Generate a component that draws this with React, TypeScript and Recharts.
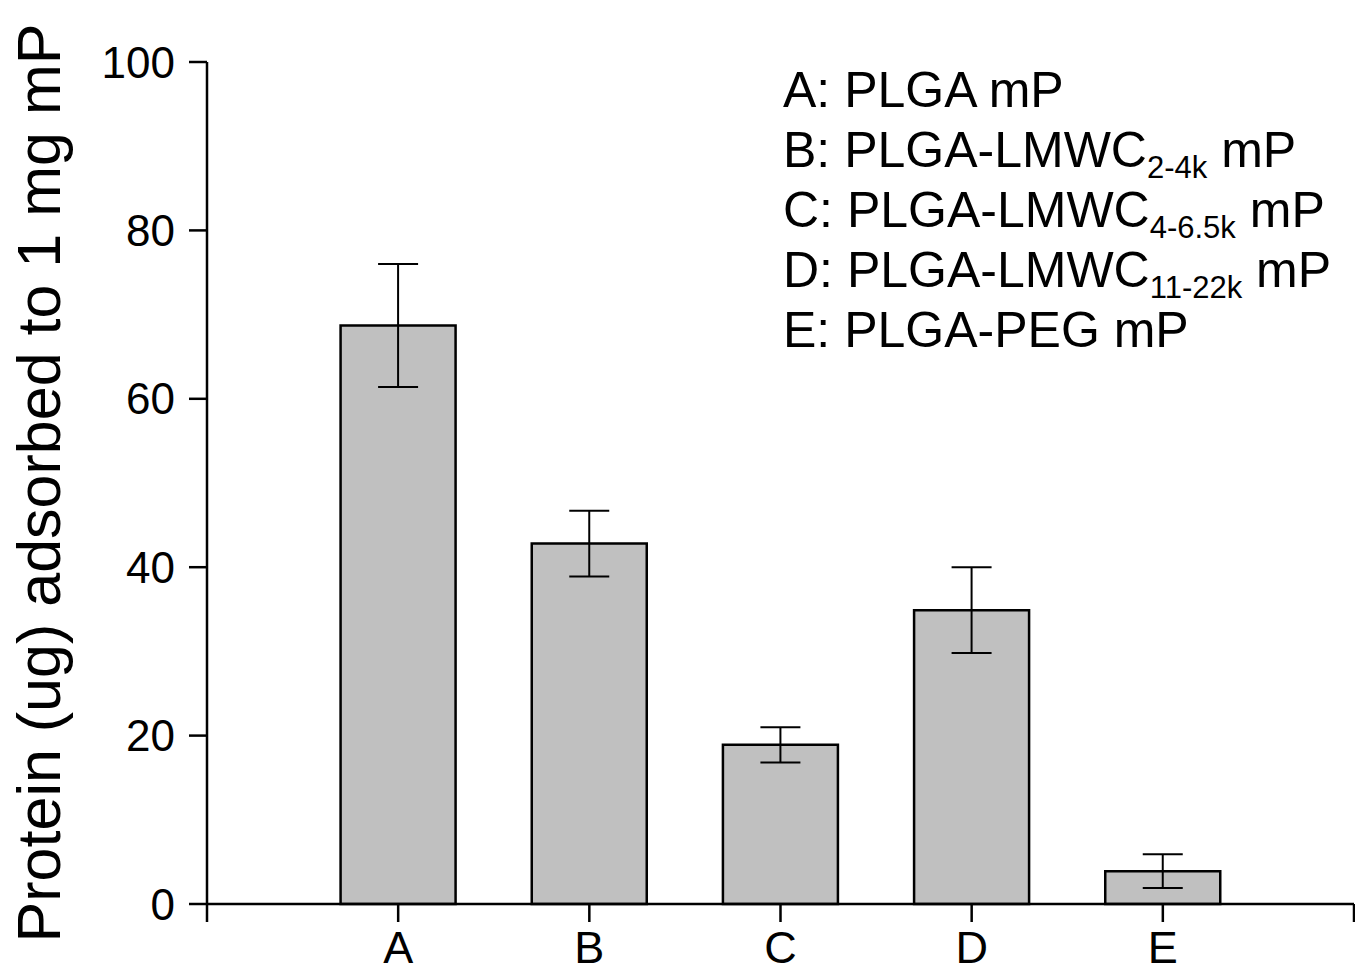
import { BarChart, Bar, XAxis, YAxis, ErrorBar } from 'recharts';

const categories = ['A', 'B', 'C', 'D', 'E'];
const adsorbed = [68.7, 42.8, 18.9, 34.9, 3.9];
const errors = [7.3, 3.9, 2.1, 5.1, 2.0];
const yTicks = [0, 20, 40, 60, 80, 100];
const xTicks = [0, 1, 2, 3, 4, 5, 6];

const legendMain = ['A: PLGA mP', 'B: PLGA-LMWC', 'C: PLGA-LMWC', 'D: PLGA-LMWC', 'E: PLGA-PEG mP'];
const legendSub = ['', '2-4k', '4-6.5k', '11-22k', ''];
const legendTail = ['', ' mP', ' mP', ' mP', ''];

const yLabel = 'Protein (ug) adsorbed to 1 mg mP';

const data = categories.map((name, i) => ({
  pos: i + 1,
  name,
  value: adsorbed[i],
  err: errors[i],
}));

const font = 'Liberation Sans, Arial, sans-serif';

const YLabel = (props: any) => {
  const vb = props.viewBox || { x: 0, y: 0, width: 0, height: 0 };
  const cx = vb.x + 60;
  const cy = vb.y + vb.height / 2;
  return (
    <text
      x={cx}
      y={cy}
      transform={`rotate(-90 ${cx} ${cy})`}
      textAnchor="middle"
      fontSize={61}
      fontFamily={font}
      fill="#000"
    >
      {yLabel}
    </text>
  );
};

export default function App() {
  return (
    <div style={{ position: 'absolute', left: 0, top: 0, width: 1355, height: 973, background: '#fff' }}>
      <BarChart
        width={1355}
        height={973}
        data={data}
        margin={{ top: 62, right: 1, left: 0, bottom: 0 }}
      >
        <XAxis
          type="number"
          dataKey="pos"
          domain={[0, 6]}
          ticks={xTicks}
          interval={0}
          tickFormatter={(v: number) => categories[v - 1] ?? ''}
          height={69}
          tickSize={18}
          tickMargin={9}
          axisLine={{ stroke: '#000', strokeWidth: 2.5 }}
          tickLine={{ stroke: '#000', strokeWidth: 2.5 }}
          tick={{ fill: '#000', fontSize: 45, fontFamily: font }}
        />
        <YAxis
          domain={[0, 100]}
          ticks={yTicks}
          width={207}
          tickSize={18}
          tickMargin={14}
          axisLine={{ stroke: '#000', strokeWidth: 2.5 }}
          tickLine={{ stroke: '#000', strokeWidth: 2.5 }}
          tick={{ fill: '#000', fontSize: 44, fontFamily: font }}
          label={<YLabel />}
        />
        <Bar
          dataKey="value"
          fill="#c0c0c0"
          stroke="#000"
          strokeWidth={2.5}
          barSize={115}
          isAnimationActive={false}
        >
          <ErrorBar dataKey="err" width={20} stroke="#000" strokeWidth={2} direction="y" />
        </Bar>
      </BarChart>
      <div
        style={{
          position: 'absolute',
          left: 783,
          top: 60,
          fontFamily: font,
          fontSize: 50,
          lineHeight: '60px',
          color: '#000',
          whiteSpace: 'nowrap',
        }}
      >
        {legendMain.map((m, i) => (
          <div key={i} style={{ height: 60 }}>
            {m}
            {legendSub[i] && (
              <span style={{ fontSize: 31, lineHeight: 0, position: 'relative', top: 11 }}>
                {legendSub[i]}
              </span>
            )}
            {legendTail[i]}
          </div>
        ))}
      </div>
    </div>
  );
}
